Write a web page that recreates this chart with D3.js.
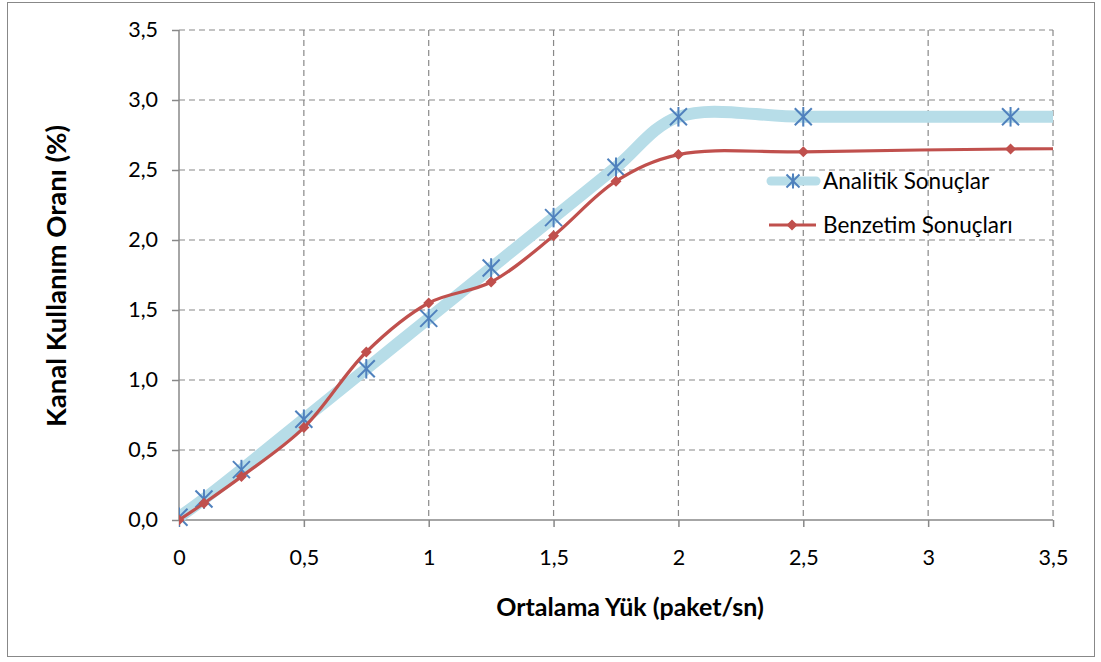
<!DOCTYPE html>
<html><head><meta charset="utf-8">
<script src="https://cdn.jsdelivr.net/npm/d3@7/dist/d3.min.js"></script>
<style>body{margin:0;background:#fff}text{font-family:Lato,"Open Sans",sans-serif}</style>
</head><body><svg id="c" width="1101" height="662"></svg>
<script>
const xTicks=[0,0.5,1,1.5,2,2.5,3,3.5];
const yTicks=[0,0.5,1,1.5,2,2.5,3,3.5];
const loads=[0,0.1,0.25,0.5,0.75,1,1.25,1.5,1.75,2,2.5,3.33];
const analytic=[0.02,0.15,0.36,0.72,1.08,1.44,1.8,2.16,2.52,2.88,2.88,2.88];
const simulation=[0.0,0.12,0.31,0.66,1.2,1.55,1.7,2.03,2.42,2.61,2.63,2.65];
const seriesNames=["Analitik Sonuçlar","Benzetim Sonuçları"];
const fmt=d=>d3.format(".1f")(d).replace(".",",");
const fmtX=d=>(Number.isInteger(d)?String(d):String(d).replace(".",","));

const svg=d3.select("#c");
svg.append("rect").attr("x",7.5).attr("y",2.5).attr("width",1087).attr("height",654).attr("fill","#fff").attr("stroke","#888").attr("stroke-width",1);
const m={l:179,r:1053,t:30,b:520};
const x=d3.scaleLinear().domain([0,3.5]).range([m.l,m.r]);
const y=d3.scaleLinear().domain([0,3.5]).range([m.b,m.t]);

// grid
const g=svg.append("g");
g.selectAll(".gy").data(yTicks.filter(d=>d>0)).join("line").attr("x1",m.l).attr("x2",m.r).attr("y1",d=>y(d)).attr("y2",d=>y(d)).attr("stroke","#888").attr("stroke-dasharray","6,4").attr("stroke-width",1.2);
g.selectAll(".gx").data(xTicks.filter(d=>d>0)).join("line").attr("y1",m.t).attr("y2",m.b).attr("x1",d=>x(d)).attr("x2",d=>x(d)).attr("stroke","#888").attr("stroke-dasharray","6,4").attr("stroke-width",1.2);

// axes
const ya=svg.append("g").attr("transform",`translate(${m.l},0)`).call(d3.axisLeft(y).tickValues(yTicks).tickFormat(fmt).tickSize(7).tickPadding(14));
const xa=svg.append("g").attr("transform",`translate(0,${m.b})`).call(d3.axisBottom(x).tickValues(xTicks).tickFormat(fmtX).tickSize(7).tickPadding(23));
[ya,xa].forEach(a=>{a.selectAll("path,line").attr("stroke","#888").attr("stroke-width",1.5);a.selectAll("text").attr("font-size",21.5).attr("fill","#000").attr("font-family","Lato,sans-serif");});
ya.select(".domain").attr("d",`M0,${m.b}V${m.t}`);
xa.select(".domain").attr("d",`M${m.l},0H${m.r}`);

// clip
svg.append("clipPath").attr("id","cp").append("rect").attr("x",m.l).attr("y",m.t-20).attr("width",m.r-m.l).attr("height",m.b-m.t+40);

const ext=4.0;
const aData=loads.map((d,i)=>[d,analytic[i]]).concat([[ext,analytic[analytic.length-1]]]);
const sData=loads.map((d,i)=>[d,simulation[i]]).concat([[ext,simulation[simulation.length-1]+0.005]]);
const line=d3.line().x(d=>x(d[0])).y(d=>y(d[1])).curve(d3.curveCatmullRom.alpha(0.5));
const pg=svg.append("g").attr("clip-path","url(#cp)");
pg.append("path").attr("d",line(aData)).attr("fill","none").attr("stroke","#B7DDE8").attr("stroke-width",12).attr("stroke-linecap","round");
const star=(sel,cx,cy,r)=>{const gg=sel.append("g").attr("transform",`translate(${cx},${cy})`).attr("stroke","#4F81BD").attr("stroke-width",2);
 gg.append("line").attr("x1",-r).attr("y1",-r).attr("x2",r).attr("y2",r);
 gg.append("line").attr("x1",-r).attr("y1",r).attr("x2",r).attr("y2",-r);
 gg.append("line").attr("x1",0).attr("y1",-r*1.15).attr("x2",0).attr("y2",r*1.15);};
loads.forEach((d,i)=>star(pg,x(d),y(analytic[i]),8.5));
pg.append("path").attr("d",line(sData)).attr("fill","none").attr("stroke","#C0504D").attr("stroke-width",3.2);
const diamond=(sel,cx,cy,r)=>sel.append("path").attr("d",`M${cx},${cy-r}L${cx+r},${cy}L${cx},${cy+r}L${cx-r},${cy}Z`).attr("fill","#C0504D");
loads.forEach((d,i)=>diamond(pg,x(d),y(simulation[i]),5.5));

// legend
const lg=svg.append("g");
lg.append("line").attr("x1",771).attr("x2",816).attr("y1",181).attr("y2",181).attr("stroke","#B7DDE8").attr("stroke-width",9).attr("stroke-linecap","round");
star(lg,793,181,6.5);
lg.append("text").attr("x",823).attr("y",189).attr("font-size",22.5).text(seriesNames[0]);
lg.append("line").attr("x1",769).attr("x2",816).attr("y1",225).attr("y2",225).attr("stroke","#C0504D").attr("stroke-width",3.2);
diamond(lg,792,225,5.5);
lg.append("text").attr("x",823).attr("y",233).attr("font-size",22.5).text(seriesNames[1]);

// titles
svg.append("text").attr("x",630).attr("y",616).attr("text-anchor","middle").attr("font-size",25).attr("font-weight","bold").text("Ortalama Yük (paket/sn)");
svg.append("text").attr("transform","translate(66,276) rotate(-90)").attr("text-anchor","middle").attr("font-size",27.5).attr("font-weight","bold").text("Kanal Kullanım Oranı (%)");
</script></body></html>
